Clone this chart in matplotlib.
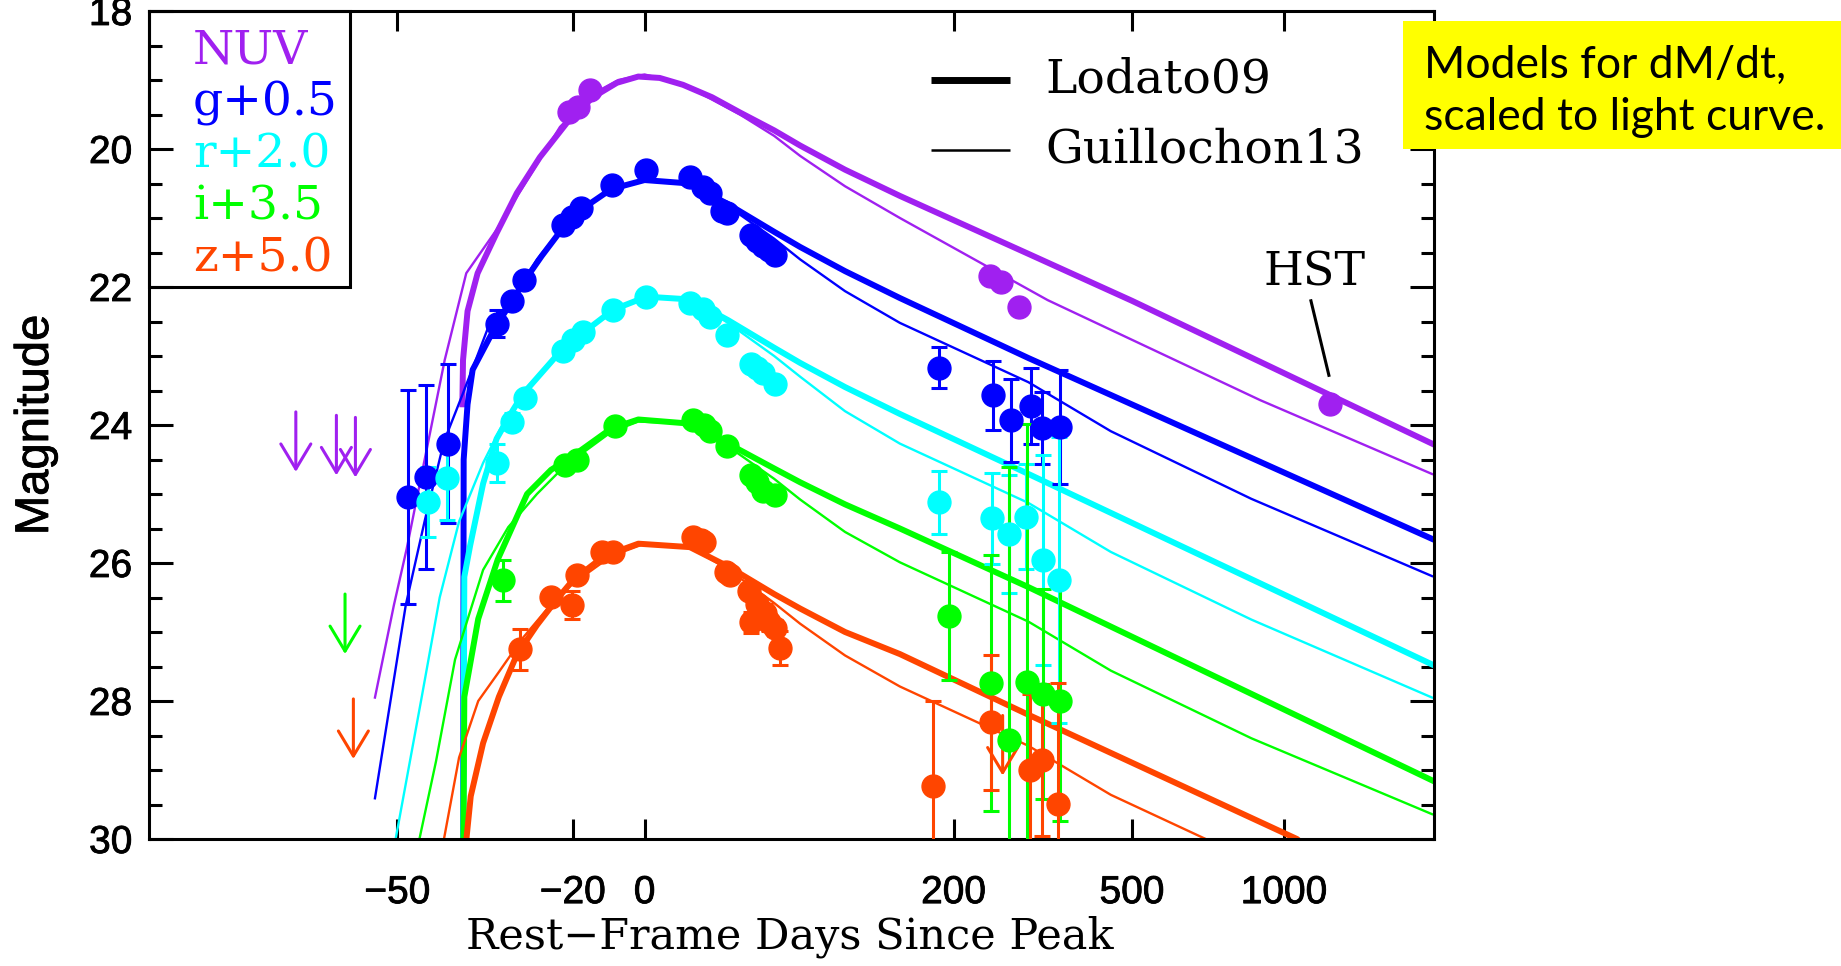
import numpy as np
import matplotlib
matplotlib.use('Agg')
import matplotlib.pyplot as plt
import matplotlib.patheffects as pe
from matplotlib.patches import Rectangle
from matplotlib.ticker import MultipleLocator, FixedLocator

# zero point (days before peak) of the log time axis
T0 = 78.5

# ---------------- model curves: Lodato09 (thick) ----------------
t_lod_nuv = [-41.3, -41.2, -40.5, -38.9, -35.7, -32.0, -27.4, -21.4, -15.0, -8.4, -2.0, 5.0, 13.4, 25, 37.5, 55, 70, 100, 145, 300, 500, 1900]
m_lod_nuv = [23.7, 23.06, 22.35, 21.80, 21.22, 20.64, 20.12, 19.62, 19.25, 19.04, 18.95, 18.97, 19.07, 19.25, 19.47, 19.73, 19.95, 20.3, 20.68, 21.52, 22.2, 24.27]

t_lod_g = [-41.2, -41.1, -40.5, -39.7, -37.0, -35.7, -33.0, -30.6, -27.0, -22.4, -18.0, -10.0, 0.0, 16, 32, 55, 70, 100, 145, 300, 1900]
m_lod_g = [31.0, 24.5, 23.7, 23.2, 22.75, 22.55, 22.22, 21.92, 21.55, 21.15, 20.88, 20.58, 20.45, 20.5, 20.8, 21.2, 21.42, 21.77, 22.16, 23.03, 25.65]

t_lod_r = [-41.2, -41.0, -40.1, -38.0, -35.7, -32.7, -30.8, -23.0, -18.3, -9.5, 0.6, 16, 32, 55, 70, 100, 145, 300, 1900]
m_lod_r = [31.0, 26.2, 25.75, 24.85, 24.2, 23.78, 23.55, 22.94, 22.70, 22.33, 22.14, 22.18, 22.48, 22.88, 23.1, 23.45, 23.84, 24.71, 27.47]

t_lod_i = [-41.2, -41.0, -38.8, -35.5, -30.0, -25.0, -20.0, -10.0, -2.0, 16, 32, 55, 70, 100, 145, 300, 1900]
m_lod_i = [31.0, 27.94, 26.81, 25.95, 25.0, 24.65, 24.45, 24.05, 23.92, 23.98, 24.27, 24.63, 24.83, 25.15, 25.5, 26.35, 29.15]

t_lod_z = [-41.0, -40.0, -38.0, -35.3, -32.0, -28.0, -24.0, -20.0, -12.0, -2.0, 16, 32, 55, 70, 100, 145, 300, 1059, 1300]
m_lod_z = [30.3, 29.38, 28.61, 27.94, 27.33, 26.9, 26.55, 26.25, 25.9, 25.72, 25.77, 26.05, 26.45, 26.66, 27.0, 27.32, 28.2, 30.0, 30.6]

# ---------------- model curves: Guillochon13 (thin) ----------------
t_gui_nuv = [-52.5, -50.4, -48.9, -43.9, -40.7, -35.7, -28.7, -23.0, -15, -8, 0, 13, 37.5, 55, 70, 100, 145, 331, 900, 1900]
m_gui_nuv = [27.95, 26.61, 25.8, 23.06, 21.80, 21.17, 20.30, 19.68, 19.2, 19.0, 18.92, 19.05, 19.5, 19.81, 20.1, 20.54, 21.0, 22.19, 23.64, 24.71]

t_gui_g = [-52.5, -49.0, -46.6, -44.0, -41.2, -36.9, -33, -28, -20, -10, 0, 16, 32, 55, 70, 100, 145, 300, 452, 865, 1900]
m_gui_g = [29.41, 26.61, 25.38, 24.24, 23.54, 22.53, 22.2, 21.6, 20.95, 20.6, 20.45, 20.5, 20.83, 21.3, 21.6, 22.06, 22.52, 23.38, 24.09, 25.07, 26.19]

t_gui_r = [-50.2, -47.1, -44.6, -41.8, -38, -35, -30, -23, -10, 0, 16, 32, 55, 70, 100, 145, 300, 452, 865, 1900]
m_gui_r = [30.0, 28.0, 26.5, 25.4, 24.55, 24.05, 23.45, 22.95, 22.35, 22.15, 22.18, 22.52, 23.0, 23.3, 23.8, 24.27, 25.13, 25.84, 26.82, 27.95]

t_gui_i = [-47.3, -45.1, -42.4, -38.0, -33.6, -28, -22, -10, -2, 16, 32, 55, 70, 100, 145, 300, 452, 865, 1900]
m_gui_i = [30.0, 28.87, 27.4, 26.1, 25.48, 25.0, 24.6, 24.1, 23.95, 23.98, 24.31, 24.78, 25.08, 25.55, 25.99, 26.85, 27.56, 28.54, 29.64]

t_gui_z = [-44.0, -41.8, -38.8, -35.3, -31, -25, -20, -10, 0, 16, 32, 55, 70, 100, 145, 300, 452, 704, 800]
m_gui_z = [30.0, 28.82, 28.0, 27.58, 27.1, 26.6, 26.3, 25.9, 25.72, 25.77, 26.09, 26.58, 26.88, 27.34, 27.79, 28.65, 29.36, 30.0, 30.2]

# ---------------- photometry ----------------
t_nuv = [-21.0, -18.7, -15.8, 244.3, 260.2, 286.3, 1222]
m_nuv = [19.46, 19.39, 19.15, 21.84, 21.93, 22.29, 23.70]
e_nuv = [0.05, 0.05, 0.05, 0.08, 0.08, 0.1, 0.08]

t_g = [-48.7, -46.4, -43.4, -35.7, -33.0, -30.6, -22.4, -20.3, -17.9, -9.9, 0.6, 16.0, 21.3, 24.1, 29.3, 31.4,
       43.0, 46.0, 49.1, 52.2, 55.3, 183.5, 248.8, 273.3, 303.5, 322, 352.1]
m_g = [25.04, 24.75, 24.27, 22.53, 22.21, 21.90, 21.10, 20.98, 20.86, 20.52, 20.30, 20.40, 20.55, 20.64, 20.90, 20.93,
       21.24, 21.33, 21.40, 21.46, 21.54, 23.17, 23.57, 23.93, 23.73, 24.04, 24.03]
e_g = [1.55, 1.33, 1.15, 0.2, 0.08, 0.05, 0.05, 0.05, 0.05, 0.05, 0.05, 0.05, 0.05, 0.05, 0.05, 0.05,
       0.05, 0.05, 0.05, 0.05, 0.05, 0.3, 0.5, 0.6, 0.55, 0.52, 0.82]

t_r = [-46.2, -43.6, -35.7, -33.0, -30.5, -22.4, -19.9, -17.5, -9.5, 0.6, 16.0, 21.3, 24.1, 31.4, 43.0, 46.0,
       49.1, 55.3, 183.5, 247.4, 271.7, 296.9, 323.8, 350]
m_r = [25.12, 24.77, 24.55, 23.95, 23.61, 22.93, 22.77, 22.65, 22.33, 22.14, 22.23, 22.32, 22.44, 22.69, 23.11, 23.17,
       23.25, 23.40, 25.12, 25.35, 25.58, 25.33, 25.96, 26.25]
e_r = [0.51, 0.6, 0.28, 0.12, 0.05, 0.05, 0.05, 0.05, 0.05, 0.05, 0.05, 0.05, 0.05, 0.05, 0.08, 0.08,
       0.08, 0.08, 0.46, 0.66, 0.85, 0.76, 1.52, 2.07]

t_i = [-34.5, -21.9, -19.1, -9.0, 17.1, 21.8, 24.2, 31.4, 43.0, 46.0, 49.1, 55.3, 195, 246.6, 270.7, 298, 323.2, 352.1]
m_i = [26.25, 24.58, 24.51, 24.02, 23.93, 24.00, 24.08, 24.31, 24.73, 24.82, 24.95, 25.02, 26.77, 27.74, 28.57, 27.72, 27.90, 28.0]
e_i = [0.3, 0.05, 0.05, 0.05, 0.05, 0.05, 0.05, 0.05, 0.08, 0.08, 0.08, 0.08, 0.93, 1.85, 3.96, 3.73, 1.52, 1.74]

t_z = [-31.3, -24.9, -20.3, -18.9, -12.5, -9.6, 17.1, 20.4, 21.8, 30.9, 33.0, 41.9, 43.0, 46.0, 50.3, 52.2, 55.3, 58.0,
       177.8, 246.6, 302.3, 322, 348.8]
m_z = [27.25, 26.49, 26.61, 26.18, 25.84, 25.84, 25.63, 25.67, 25.70, 26.13, 26.18, 26.40, 26.86, 26.60, 26.72, 26.86, 26.94, 27.23,
       29.23, 28.31, 29.0, 28.85, 29.49]
e_z = [0.3, 0.1, 0.2, 0.1, 0.08, 0.08, 0.05, 0.05, 0.05, 0.08, 0.08, 0.1, 0.15, 0.1, 0.12, 0.12, 0.12, 0.25,
       1.23, 0.98, 1.1, 1.1, 1.75]

# upper limits (arrows)
t_lim_nuv = [-59.7, -56.3, -54.5]
m_lim_nuv = [23.81, 23.86, 23.89]
t_lim_i = [-55.5]
m_lim_i = [26.45]
t_lim_z = [-54.7, 262]
m_lim_z = [27.97, 28.21]

# HST label
t_hst_line = [1126, 1218]
m_hst_line = [22.2, 23.28]

band_names = ['NUV', 'g+0.5', 'r+2.0', 'i+3.5', 'z+5.0']
band_colors = ['#A020F0', '#0000FF', '#00FFFF', '#00FF00', '#FF4500']

# ---------------- figure ----------------
W, H = 1841, 966
fig = plt.figure(figsize=(W / 100, H / 100), dpi=100)
AX_L, AX_R, AX_T, AX_B = 149, 1434, 11, 839
ax = fig.add_axes([AX_L / W, 1 - AX_B / H, (AX_R - AX_L) / W, (AX_B - AX_T) / H])


def fwd(t):
    return np.log10(np.maximum(np.asarray(t, dtype=float) + T0, 1e-6))


def inv(x):
    return 10 ** np.asarray(x, dtype=float) - T0


ax.set_xscale('function', functions=(fwd, inv))
ax.set_xlim(-68.2, 1916)
ax.set_ylim(30, 18)

sans = ['Liberation Sans', 'DejaVu Sans']
serif = ['DejaVu Serif']
heavy = [pe.withStroke(linewidth=0.6, foreground='black')]

THICK, THIN = 4.3, 1.7
lod = [(t_lod_nuv, m_lod_nuv), (t_lod_g, m_lod_g), (t_lod_r, m_lod_r), (t_lod_i, m_lod_i), (t_lod_z, m_lod_z)]
gui = [(t_gui_nuv, m_gui_nuv), (t_gui_g, m_gui_g), (t_gui_r, m_gui_r), (t_gui_i, m_gui_i), (t_gui_z, m_gui_z)]
for (tl, ml), (tg, mg), c in zip(lod, gui, band_colors):
    ax.plot(tg, mg, color=c, lw=THIN, zorder=2, solid_joinstyle='round')
    ax.plot(tl, ml, color=c, lw=THICK, zorder=2, solid_joinstyle='round')

phot = [(t_nuv, m_nuv, e_nuv), (t_g, m_g, e_g), (t_r, m_r, e_r), (t_i, m_i, e_i), (t_z, m_z, e_z)]
for (t, m, e), c in zip(phot, band_colors):
    ax.errorbar(t, m, yerr=e, fmt='o', ms=16.5, color=c, mec=c, ecolor=c,
                elinewidth=2.2, capsize=6, capthick=2.2, zorder=3)

ARROW = 0.87
for tl, ml, c in [(t_lim_nuv, m_lim_nuv, band_colors[0]), (t_lim_i, m_lim_i, band_colors[3]),
                  (t_lim_z, m_lim_z, band_colors[4])]:
    for t, m in zip(tl, ml):
        ax.annotate('', xy=(t, m + ARROW), xytext=(t, m),
                    arrowprops=dict(arrowstyle='->,head_length=0.45,head_width=0.27',
                                    lw=2.2, color=c, mutation_scale=40, shrinkA=0, shrinkB=0),
                    zorder=3)

ax.plot(t_hst_line, m_hst_line, color='k', lw=2.2)
ax.text(1146, 21.8, 'HST', family=serif, fontsize=33, ha='center', va='center')

# ticks
ax.xaxis.set_major_locator(FixedLocator([-50, -20, 0, 200, 500, 1000]))
ax.xaxis.set_minor_locator(FixedLocator([]))
ax.set_xticklabels(['\u221250', '\u221220', '0', '200', '500', '1000'])
ax.yaxis.set_major_locator(MultipleLocator(2))
ax.yaxis.set_minor_locator(MultipleLocator(0.5))
ax.tick_params(axis='both', which='both', direction='in', top=True, right=True, width=2.2)
ax.tick_params(axis='x', which='major', length=14.5, pad=26, labelsize=28)
ax.tick_params(axis='y', which='major', length=17, pad=12, labelsize=28)
ax.tick_params(axis='y', which='minor', length=9.5)
for lab in ax.get_xticklabels() + ax.get_yticklabels():
    lab.set_family(sans)
    lab.set_path_effects(heavy)
for s in ax.spines.values():
    s.set_linewidth(2.2)

fig.text(36 / W, 1 - 425 / H, 'Magnitude', rotation=90, ha='center', va='center',
         family=sans, fontsize=34, path_effects=heavy)
fig.text(790 / W, 1 - 937 / H, 'Rest\u2212Frame Days Since Peak', ha='center', va='center',
         family=serif, fontsize=31)


def axfrac(x, y):
    return ((x - AX_L) / (AX_R - AX_L), (AX_B - y) / (AX_B - AX_T))


# band legend box
x0, y0 = axfrac(149, 287)
x1, y1 = axfrac(350, 11)
ax.add_patch(Rectangle((x0, y0), x1 - x0, y1 - y0, transform=ax.transAxes, fill=False,
                       lw=2.2, ec='k', zorder=5, clip_on=False))
for k, (name, c) in enumerate(zip(band_names, band_colors)):
    ax.text(*axfrac(193, 63 + 52 * k), name, transform=ax.transAxes, color=c,
            family=serif, fontsize=34, ha='left', va='baseline', zorder=6)

# model legend
for y, lw, name in [(80, 5.0, 'Lodato09'), (150, 1.8, 'Guillochon13')]:
    xa, ya = axfrac(931, y)
    xb, _ = axfrac(1010, y)
    ax.plot([xa, xb], [ya, ya], transform=ax.transAxes, color='k', lw=lw, solid_capstyle='butt')
    ax.text(*axfrac(1045, y), name, transform=ax.transAxes, family=serif, fontsize=34,
            ha='left', va='center')

# yellow note
fig.patches.append(Rectangle((1403 / W, 1 - 149 / H), (W - 1403) / W, 128 / H,
                             transform=fig.transFigure, fc='#FFFF00', ec='none', zorder=10))
fig.text(1424 / W, 1 - 65 / H, 'Models for dM/dt,', family=['Lato', 'DejaVu Sans'],
         fontsize=32, ha='left', va='center', zorder=11)
fig.text(1424 / W, 1 - 117 / H, 'scaled to light curve.', family=['Lato', 'DejaVu Sans'],
         fontsize=32, ha='left', va='center', zorder=11)

fig.savefig('out.png', dpi=100)
